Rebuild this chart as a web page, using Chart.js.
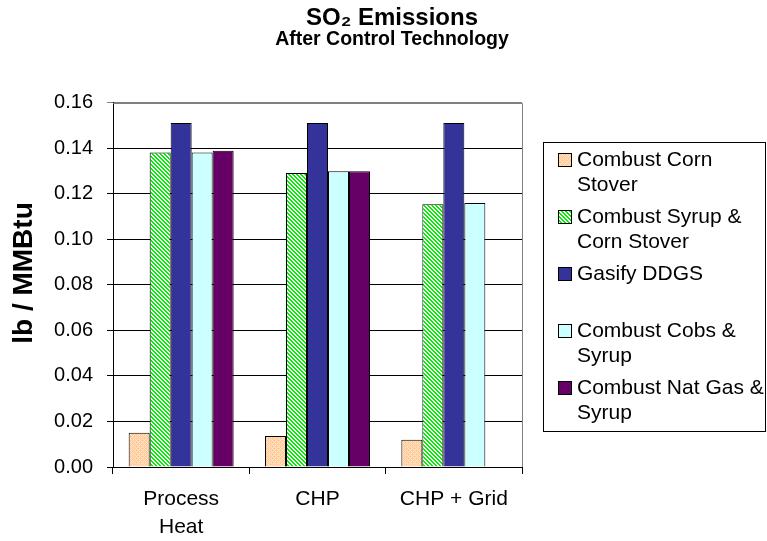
<!DOCTYPE html>
<html>
<head>
<meta charset="utf-8">
<script src="https://cdn.jsdelivr.net/npm/chart.js@4.4.1/dist/chart.umd.min.js"></script>
<style>
  html, body { margin: 0; padding: 0; background: #fff; }
  #wrap { width: 767px; height: 541px; }
</style>
</head>
<body>
<div id="wrap"><canvas id="myChart" width="767" height="541"></canvas></div>
<script>
const categories = [['Process', 'Heat'], 'CHP', 'CHP + Grid'];
const seriesNames = [
    ['Combust Corn', 'Stover'],
    ['Combust Syrup &', 'Corn Stover'],
    ['Gasify DDGS'],
    ['Combust Cobs &', 'Syrup'],
    ['Combust Nat Gas &', 'Syrup']
];
const cornStover = [0.015, 0.0136, 0.012];
const syrupCornStover = [0.138, 0.129, 0.1153];
const gasifyDDGS = [0.151, 0.151, 0.151];
const cobsSyrup = [0.138, 0.1298, 0.1159];
const natGasSyrup = [0.1388, 0.1298, null];
const yTicks = [0, 0.02, 0.04, 0.06, 0.08, 0.10, 0.12, 0.14, 0.16];
const yTitle = 'lb / MMBtu';

const FONT = '"Liberation Sans", Arial, sans-serif';
Chart.defaults.font.family = FONT;
Chart.defaults.color = '#000';

// little fill patterns like the excel ones
function makePattern(draw, size) {
    const c = document.createElement('canvas');
    c.width = size; c.height = size;
    draw(c.getContext('2d'), size);
    return c.getContext('2d').createPattern(c, 'repeat');
}
const orangeHatch = makePattern((g, s) => {
    g.fillStyle = '#FFCC99';
    g.fillRect(0, 0, s, s);
    g.fillStyle = '#FFE4C8';
    g.fillRect(0, 0, 1, 1); g.fillRect(2, 2, 1, 1);
    g.fillRect(1, 1, 1, 1); g.fillRect(3, 3, 1, 1);
    g.fillRect(3, 1, 1, 1); g.fillRect(1, 3, 1, 1);
}, 4);
const greenStripes = makePattern((g, s) => {
    g.fillStyle = '#00EE00';
    g.fillRect(0, 0, s, s);
    g.fillStyle = '#ffffff';
    for (let i = 0; i < s; i++) {
        g.fillRect(i, i, 1, 1);
        g.fillRect((i + 1) % s, i, 1, 1);
    }
}, 4);

const fills = [orangeHatch, greenStripes, '#333399', '#CCFFFF', '#660066'];
const values = [cornStover, syrupCornStover, gasifyDDGS, cobsSyrup, natGasSyrup];

// legend drawn by hand so the names can wrap like in the original
const sideLegend = {
    id: 'sideLegend',
    afterDraw(chart) {
        const ctx = chart.ctx;
        ctx.save();
        ctx.strokeStyle = '#000';
        ctx.lineWidth = 1;
        ctx.strokeRect(543.5, 142.5, 222, 289);
        ctx.font = '21px ' + FONT;
        ctx.textBaseline = 'middle';
        ctx.textAlign = 'left';
        for (let i = 0; i < seriesNames.length; i++) {
            const y = 160 + 57 * i;
            ctx.fillStyle = fills[i];
            ctx.fillRect(558, y - 7, 14, 14);
            ctx.strokeStyle = '#000';
            ctx.strokeRect(558.5, y - 6.5, 13, 13);
            ctx.fillStyle = '#000';
            seriesNames[i].forEach((line, j) => ctx.fillText(line, 577, y + 25 * j));
        }
        ctx.restore();
    }
};

// grey plot area frame (top and right) + the value axis caption
const plotFrame = {
    id: 'plotFrame',
    afterDraw(chart) {
        const a = chart.chartArea;
        const ctx = chart.ctx;
        ctx.save();
        ctx.strokeStyle = '#808080';
        ctx.lineWidth = 1;
        ctx.beginPath();
        ctx.moveTo(a.left, Math.round(a.top) + 0.5);
        ctx.lineTo(Math.round(a.right) + 0.5, Math.round(a.top) + 0.5);
        ctx.lineTo(Math.round(a.right) + 0.5, a.bottom);
        ctx.stroke();

        ctx.translate(24, 273);
        ctx.rotate(-Math.PI / 2);
        ctx.font = 'bold 28px ' + FONT;
        ctx.fillStyle = '#000';
        ctx.textAlign = 'center';
        ctx.textBaseline = 'middle';
        ctx.fillText(yTitle, 0, 0);
        ctx.restore();
    }
};

let myChart = document.getElementById('myChart').getContext('2d');
let so2Chart = new Chart(myChart, {
    type: 'bar',
    data: {
        labels: categories,
        datasets: seriesNames.map((name, i) => ({
            label: name.join(' '),
            data: values[i],
            backgroundColor: fills[i],
            borderColor: '#000',
            borderWidth: 1,
            categoryPercentage: 0.77,
            barPercentage: 1.0
        }))
    },
    options: {
        responsive: false,
        animation: false,
        layout: { padding: { left: 17, right: 0, top: 0, bottom: 0 } },
        plugins: {
            legend: { display: false },
            tooltip: { enabled: false },
            title: {
                display: true,
                text: 'SO₂ Emissions',
                font: { size: 24, weight: 'bold', lineHeight: 1 },
                padding: { top: 6, bottom: 0 }
            },
            subtitle: {
                display: true,
                text: 'After Control Technology',
                font: { size: 19.5, weight: 'bold', lineHeight: 1 },
                padding: { top: 0, bottom: 53 }
            }
        },
        scales: {
            x: {
                grid: { offset: true, drawOnChartArea: false, tickLength: 7, color: '#000' },
                border: { color: '#000' },
                ticks: { font: { size: 21, lineHeight: 1.35 }, padding: 11, maxRotation: 0 },
                afterFit(scale) { scale.height = 74; }
            },
            y: {
                min: 0,
                max: 0.16,
                afterBuildTicks(scale) { scale.ticks = yTicks.map(v => ({ value: v })); },
                grid: {
                    color: ctx => (ctx.tick && ctx.tick.value === 0.16 ? '#808080' : '#000'),
                    tickLength: 6
                },
                border: { color: '#000' },
                ticks: {
                    font: { size: 20 },
                    padding: 14,
                    callback: v => v.toFixed(2)
                },
                afterFit(scale) { scale.width = 96; }
            },
            // empty axis that keeps room for the legend on the right
            side: {
                position: 'right',
                grid: { display: false },
                border: { display: false },
                ticks: { display: false },
                afterFit(scale) { scale.width = 245; }
            }
        }
    },
    plugins: [plotFrame, sideLegend]
});
</script>
</body>
</html>
